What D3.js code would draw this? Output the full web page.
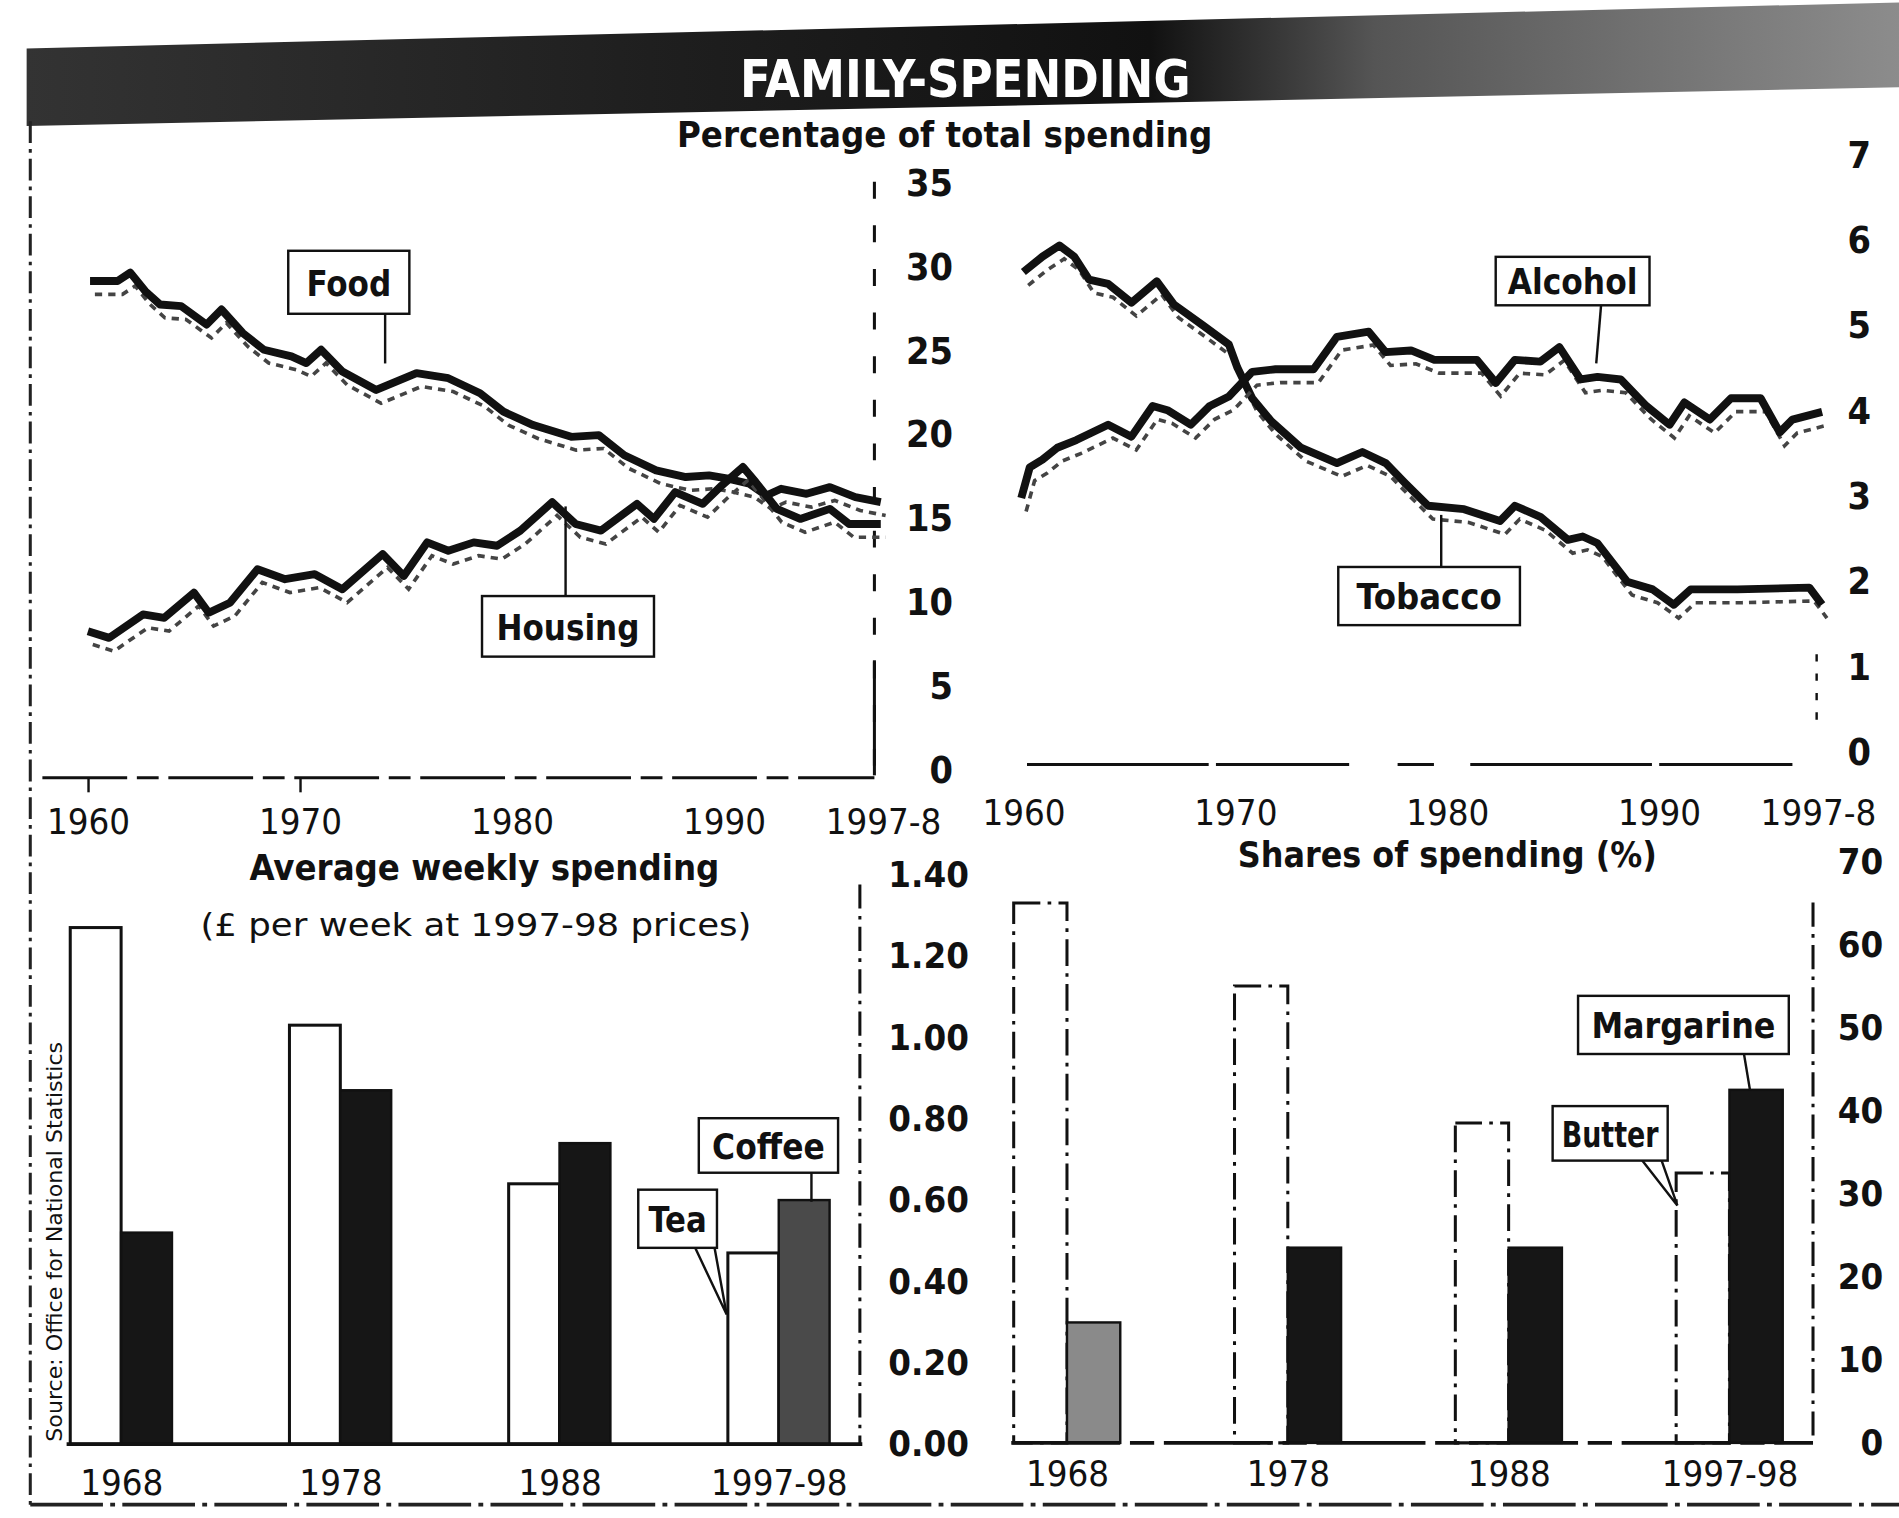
<!DOCTYPE html>
<html>
<head>
<meta charset="utf-8">
<script src="https://cdn.jsdelivr.net/npm/d3@7"></script>
<style>
html, body { margin: 0; padding: 0; background: #fff; }
svg { display: block; }
</style>
</head>
<body>
<div class="canvas"></div>
<script>
// ---- data ----
const foodYear = [1960.1, 1961.4, 1962.0, 1962.7, 1963.4, 1964.4, 1965.6, 1966.3, 1967.3, 1968.3, 1969.6, 1970.3, 1971.0, 1972.0, 1973.6, 1975.5, 1977.0, 1978.5, 1979.6, 1981.0, 1982.8, 1984.1, 1985.3, 1986.8, 1988.2, 1989.3, 1990.2, 1991.2, 1992.0, 1992.7, 1993.9, 1995.0, 1996.2, 1997.4];
const foodShare = [29.0, 29.0, 29.5, 28.4, 27.6, 27.5, 26.4, 27.3, 25.9, 24.9, 24.5, 24.1, 24.9, 23.6, 22.5, 23.5, 23.2, 22.3, 21.2, 20.4, 19.7, 19.8, 18.6, 17.7, 17.3, 17.4, 17.2, 16.9, 16.2, 16.6, 16.3, 16.7, 16.1, 15.8];

const housingYear = [1960.0, 1961.0, 1962.6, 1963.6, 1965.0, 1965.7, 1966.7, 1968.0, 1969.3, 1970.7, 1972.0, 1973.9, 1974.9, 1976.0, 1977.0, 1978.2, 1979.3, 1980.4, 1981.9, 1983.0, 1984.2, 1985.9, 1986.7, 1987.7, 1989.0, 1989.9, 1990.9, 1991.5, 1992.5, 1993.6, 1995.0, 1995.9, 1997.4];
const housingShare = [8.1, 7.7, 9.1, 8.9, 10.4, 9.2, 9.8, 11.8, 11.2, 11.5, 10.6, 12.7, 11.4, 13.4, 12.9, 13.4, 13.2, 14.1, 15.8, 14.5, 14.1, 15.7, 14.8, 16.4, 15.7, 16.8, 17.9, 17.0, 15.4, 14.8, 15.4, 14.5, 14.5];

const tobaccoYear = [1960.0, 1960.9, 1961.7, 1962.4, 1963.1, 1964.0, 1965.1, 1966.3, 1967.1, 1968.5, 1969.7, 1970.1, 1970.8, 1971.7, 1973.1, 1974.8, 1976.0, 1977.1, 1978.0, 1979.1, 1980.8, 1982.5, 1983.2, 1984.4, 1985.7, 1986.4, 1987.1, 1988.5, 1989.7, 1990.7, 1991.5, 1993.7, 1997.1, 1997.7];
const tobaccoShare = [5.63, 5.81, 5.94, 5.81, 5.54, 5.49, 5.27, 5.52, 5.25, 5.0, 4.78, 4.51, 4.15, 3.88, 3.57, 3.39, 3.52, 3.39, 3.16, 2.89, 2.85, 2.71, 2.89, 2.76, 2.49, 2.53, 2.45, 2.0, 1.91, 1.73, 1.91, 1.91, 1.93, 1.73];

const alcoholYear = [1959.9, 1960.3, 1960.9, 1961.6, 1962.5, 1964.0, 1965.1, 1966.1, 1966.8, 1967.9, 1968.8, 1969.7, 1970.8, 1971.9, 1973.7, 1974.8, 1976.3, 1977.1, 1978.3, 1979.4, 1981.4, 1982.3, 1983.2, 1984.4, 1985.3, 1986.3, 1987.1, 1988.2, 1989.4, 1990.5, 1991.2, 1992.4, 1993.4, 1994.8, 1995.7, 1996.3, 1997.7];
const alcoholShare = [2.98, 3.34, 3.43, 3.57, 3.66, 3.84, 3.70, 4.06, 4.01, 3.84, 4.06, 4.17, 4.46, 4.49, 4.49, 4.87, 4.93, 4.69, 4.71, 4.60, 4.60, 4.33, 4.60, 4.58, 4.75, 4.37, 4.40, 4.37, 4.06, 3.84, 4.10, 3.90, 4.15, 4.15, 3.75, 3.90, 3.99];

const yearTicks = [1960, 1970, 1980, 1990, 1997.5];
const yearTickLabels = ['1960', '1970', '1980', '1990', '1997-8'];
const pctTicks = [0, 5, 10, 15, 20, 25, 30, 35];
const smallPctTicks = [0, 1, 2, 3, 4, 5, 6, 7];

const surveyYears = ['1968', '1978', '1988', '1997-98'];
const tea = [1.27, 1.03, 0.64, 0.47];
const coffee = [0.52, 0.87, 0.74, 0.60];
const poundTicks = [0, 0.2, 0.4, 0.6, 0.8, 1.0, 1.2, 1.4];

const butter = [65, 55, 38.5, 32.5];
const margarine = [14.5, 23.5, 23.5, 42.5];
const shareTicks = [0, 10, 20, 30, 40, 50, 60, 70];

// ---- canvas (drawn in a 1568x1253 frame, stretched to the window) ----
const W = 1899, H = 1518;
const VW = 1568, VH = 1253;
const numFont = '"DejaVu Sans Condensed", "DejaVu Sans", sans-serif';
const headFont = '"DejaVu Sans Condensed", "DejaVu Sans", sans-serif';

const svg = d3.select('.canvas')
	.append('svg')
	.attr('width', W)
	.attr('height', H)
	.attr('viewBox', `0 0 ${VW} ${VH}`)
	.attr('preserveAspectRatio', 'none');

const defs = svg.append('defs');
const grad = defs.append('linearGradient').attr('id', 'band').attr('x1', '0%').attr('x2', '100%');
grad.append('stop').attr('offset', '0%').attr('stop-color', '#333');
grad.append('stop').attr('offset', '35%').attr('stop-color', '#1e1e1e');
grad.append('stop').attr('offset', '60%').attr('stop-color', '#111');
grad.append('stop').attr('offset', '72%').attr('stop-color', '#555');
grad.append('stop').attr('offset', '100%').attr('stop-color', '#8c8c8c');

//title band
svg.append('path')
	.attr('d', 'M22,40 L1568,2 L1568,72 L22,104 Z')
	.attr('fill', 'url(#band)');
svg.append('text')
	.attr('x', 797).attr('y', 80)
	.attr('text-anchor', 'middle')
	.attr('font-family', headFont)
	.attr('font-weight', 'bold')
	.attr('font-size', 42)
	.attr('textLength', 372)
	.attr('lengthAdjust', 'spacingAndGlyphs')
	.attr('fill', '#fff')
	.text('FAMILY-SPENDING');

//frame
svg.append('line').attr('x1', 25).attr('y1', 100).attr('x2', 25).attr('y2', 1242)
	.attr('stroke', '#222').attr('stroke-width', 2.5).attr('stroke-dasharray', '18 5 3 5');
svg.append('line').attr('x1', 25).attr('y1', 1242).attr('x2', 1568).attr('y2', 1242)
	.attr('stroke', '#222').attr('stroke-width', 3).attr('stroke-dasharray', '60 6 4 6');

function heading(x, y, txt, size, len, weight) {
	svg.append('text')
		.attr('x', x).attr('y', y)
		.attr('text-anchor', 'middle')
		.attr('font-family', headFont)
		.attr('font-weight', weight || 'bold')
		.attr('font-size', size)
		.attr('textLength', len)
		.attr('lengthAdjust', 'spacingAndGlyphs')
		.attr('fill', '#111')
		.text(txt);
}

function styleAxis(g, size, weight, anchor, dx) {
	g.select('.domain').remove();
	g.selectAll('.tick line').attr('stroke', '#111').attr('stroke-width', 2);
	g.selectAll('.tick text')
		.attr('font-family', numFont)
		.attr('font-size', size)
		.attr('font-weight', weight)
		.attr('fill', '#111');
	if (anchor) g.selectAll('.tick text').attr('text-anchor', anchor).attr('x', dx);
}

function callout(x, y, w, h, txt, len, pointer) {
	const g = svg.append('g');
	if (pointer) {
		g.append('path').attr('d', pointer)
			.attr('fill', 'none').attr('stroke', '#111').attr('stroke-width', 2);
	}
	g.append('rect').attr('x', x).attr('y', y).attr('width', w).attr('height', h)
		.attr('fill', '#fff').attr('stroke', '#111').attr('stroke-width', 2);
	g.append('text')
		.attr('x', x + w / 2).attr('y', y + h / 2 + 11)
		.attr('text-anchor', 'middle')
		.attr('font-family', headFont)
		.attr('font-weight', 'bold')
		.attr('font-size', 30)
		.attr('textLength', len)
		.attr('lengthAdjust', 'spacingAndGlyphs')
		.attr('fill', '#111')
		.text(txt);
}

function drawSeries(line, xs, ys) {
	const pts = d3.zip(xs, ys);
	svg.append('path').datum(pts)
		.attr('d', line)
		.attr('transform', 'translate(4,11)')
		.attr('fill', 'none')
		.attr('stroke', '#444')
		.attr('stroke-width', 3)
		.attr('stroke-dasharray', '6 5');
	svg.append('path').datum(pts)
		.attr('d', line)
		.attr('fill', 'none')
		.attr('stroke', '#111')
		.attr('stroke-width', 6.5)
		.attr('stroke-linejoin', 'round');
}

// ---- top left: food and housing ----
heading(780, 121, 'Percentage of total spending', 29, 442);

const xL = d3.scaleLinear().domain([1960, 1997.5]).range([72.6, 729]);
const yL = d3.scaleLinear().domain([0, 35]).range([633, 149]);
const lineL = d3.line().x(d => xL(d[0])).y(d => yL(d[1]));

svg.append('line').attr('x1', 722).attr('y1', 150).attr('x2', 722).attr('y2', 640)
	.attr('stroke', '#111').attr('stroke-width', 2.5).attr('stroke-dasharray', '14 22');
svg.append('line').attr('x1', 722).attr('y1', 545).attr('x2', 722).attr('y2', 640)
	.attr('stroke', '#111').attr('stroke-width', 2.5);
svg.append('line').attr('x1', 35).attr('y1', 642).attr('x2', 722).attr('y2', 642)
	.attr('stroke', '#111').attr('stroke-width', 2.5).attr('stroke-dasharray', '70 8 18 8');

svg.append('g')
	.attr('transform', 'translate(722,0)')
	.call(d3.axisRight(yL).tickValues(pctTicks).tickSize(0).tickFormat(d3.format('d')))
	.call(g => styleAxis(g, 31, 'bold', 'end', 65))
	.call(g => g.selectAll('.tick text').attr('dy', '0.4em'));

svg.append('g')
	.attr('transform', 'translate(0,642)')
	.call(d3.axisBottom(xL).tickValues(yearTicks).tickSize(12).tickFormat((d, i) => yearTickLabels[i]))
	.call(g => styleAxis(g, 30, 'normal'))
	.call(g => g.selectAll('.tick text').attr('y', 46).attr('dy', 0))
	.call(g => g.selectAll('.tick line').filter((d, i) => i > 1).remove());

drawSeries(lineL, foodYear, foodShare);
drawSeries(lineL, housingYear, housingShare);

callout(238, 207, 100, 52, 'Food', 70, 'M318,259 L318,300');
callout(398, 492, 142, 50, 'Housing', 118, 'M467,492 L467,418');

// ---- top right: alcohol and tobacco ----
const xR = d3.scaleLinear().domain([1960, 1997.5]).range([845, 1501]);
const yR = d3.scaleLinear().domain([0, 7]).range([621, 128]);
const lineR = d3.line().x(d => xR(d[0])).y(d => yR(d[1]));

svg.append('line').attr('x1', 848).attr('y1', 631).attr('x2', 1500).attr('y2', 631)
	.attr('stroke', '#111').attr('stroke-width', 2.5).attr('stroke-dasharray', '150 6 110 40 30 30');
svg.append('line').attr('x1', 1500).attr('y1', 540).attr('x2', 1500).attr('y2', 600)
	.attr('stroke', '#111').attr('stroke-width', 2).attr('stroke-dasharray', '6 10');

svg.append('g')
	.attr('transform', 'translate(1500,0)')
	.call(d3.axisRight(yR).tickValues(smallPctTicks).tickSize(0).tickFormat(d3.format('d')))
	.call(g => styleAxis(g, 31, 'bold', 'end', 45));

svg.append('g')
	.attr('transform', 'translate(0,631)')
	.call(d3.axisBottom(xR).tickValues(yearTicks).tickSize(0).tickFormat((d, i) => yearTickLabels[i]))
	.call(g => styleAxis(g, 30, 'normal'))
	.call(g => g.selectAll('.tick text').attr('y', 50).attr('dy', 0));

drawSeries(lineR, tobaccoYear, tobaccoShare);
drawSeries(lineR, alcoholYear, alcoholShare);

callout(1235, 212, 127, 40, 'Alcohol', 107, 'M1322,252 L1318,300');
callout(1105, 468, 150, 48, 'Tobacco', 120, 'M1190,468 L1190,425');

// ---- bottom left: tea and coffee ----
heading(400, 726, 'Average weekly spending', 30, 388);
heading(393, 773, '(£ per week at 1997-98 prices)', 26, 455, 'normal');

const xB = d3.scalePoint().domain(surveyYears).range([100, 643]);
const subB = d3.scaleBand().domain(['tea', 'coffee']).range([-42, 42]);
const yB = d3.scaleLinear().domain([0, 1.4]).range([1192, 722]);

svg.append('line').attr('x1', 710).attr('y1', 730).attr('x2', 710).attr('y2', 1192)
	.attr('stroke', '#111').attr('stroke-width', 2.5).attr('stroke-dasharray', '20 6 3 6');

svg.append('g')
	.attr('transform', 'translate(710,0)')
	.call(d3.axisRight(yB).tickValues(poundTicks).tickSize(0).tickFormat(d3.format('.2f')))
	.call(g => styleAxis(g, 30, 'bold', 'end', 90));

const teaBars = svg.append('g');
teaBars.selectAll('rect')
	.data(tea)
	.enter()
	.append('rect')
	.attr('x', (d, i) => xB(surveyYears[i]) + subB('tea'))
	.attr('y', d => yB(d))
	.attr('width', subB.bandwidth())
	.attr('height', d => yB(0) - yB(d))
	.attr('fill', '#fff')
	.attr('stroke', '#111')
	.attr('stroke-width', 2.5);

const coffeeBars = svg.append('g');
coffeeBars.selectAll('rect')
	.data(coffee)
	.enter()
	.append('rect')
	.attr('x', (d, i) => xB(surveyYears[i]) + subB('coffee'))
	.attr('y', d => yB(d))
	.attr('width', subB.bandwidth())
	.attr('height', d => yB(0) - yB(d))
	.attr('fill', (d, i) => i == 3 ? '#4a4a4a' : '#161616')
	.attr('stroke', '#111')
	.attr('stroke-width', 2);

svg.append('line').attr('x1', 55).attr('y1', 1192).attr('x2', 712).attr('y2', 1192)
	.attr('stroke', '#111').attr('stroke-width', 3);

svg.append('g')
	.attr('transform', 'translate(0,1192)')
	.call(d3.axisBottom(xB).tickSize(0))
	.call(g => styleAxis(g, 30, 'normal'))
	.call(g => g.selectAll('.tick text').attr('y', 42).attr('dy', 0));

callout(577, 923, 115, 45, 'Coffee', 93, 'M670,968 L670,992');
callout(527, 982, 65, 48, 'Tea', 48, 'M574,1030 L600,1085 L590,1030');

svg.append('text')
	.attr('transform', 'translate(51,1190) rotate(-90)')
	.attr('font-family', headFont)
	.attr('font-size', 17)
	.attr('textLength', 330)
	.attr('lengthAdjust', 'spacingAndGlyphs')
	.attr('fill', '#111')
	.text('Source: Office for National Statistics');

// ---- bottom right: butter and margarine ----
heading(1195, 716, 'Shares of spending (%)', 29, 346);

const xF = d3.scalePoint().domain(surveyYears).range([881, 1428]);
const subF = d3.scaleBand().domain(['butter', 'margarine']).range([-44, 44]);
const yF = d3.scaleLinear().domain([0, 70]).range([1191, 711]);

svg.append('line').attr('x1', 1497).attr('y1', 745).attr('x2', 1497).attr('y2', 1191)
	.attr('stroke', '#111').attr('stroke-width', 2.5).attr('stroke-dasharray', '20 6 3 6');

svg.append('g')
	.attr('transform', 'translate(1497,0)')
	.call(d3.axisRight(yF).tickValues(shareTicks).tickSize(0).tickFormat(d3.format('d')))
	.call(g => styleAxis(g, 30, 'bold', 'end', 58));

const butterBars = svg.append('g');
butterBars.selectAll('rect')
	.data(butter)
	.enter()
	.append('rect')
	.attr('x', (d, i) => xF(surveyYears[i]) + subF('butter'))
	.attr('y', d => yF(d))
	.attr('width', subF.bandwidth())
	.attr('height', d => yF(0) - yF(d))
	.attr('fill', '#fff')
	.attr('stroke', '#111')
	.attr('stroke-width', 2.5)
	.attr('stroke-dasharray', '22 6 3 6');

const margBars = svg.append('g');
margBars.selectAll('rect')
	.data(margarine)
	.enter()
	.append('rect')
	.attr('x', (d, i) => xF(surveyYears[i]) + subF('margarine'))
	.attr('y', d => yF(d))
	.attr('width', subF.bandwidth())
	.attr('height', d => yF(0) - yF(d))
	.attr('fill', (d, i) => i == 0 ? '#8a8a8a' : '#161616')
	.attr('stroke', '#111')
	.attr('stroke-width', 2);

svg.append('line').attr('x1', 835).attr('y1', 1191).attr('x2', 1497).attr('y2', 1191)
	.attr('stroke', '#111').attr('stroke-width', 3).attr('stroke-dasharray', '90 8 20 8');

svg.append('g')
	.attr('transform', 'translate(0,1191)')
	.call(d3.axisBottom(xF).tickSize(0))
	.call(g => styleAxis(g, 30, 'normal'))
	.call(g => g.selectAll('.tick text').attr('y', 36).attr('dy', 0));

callout(1303, 822, 174, 48, 'Margarine', 152, 'M1440,870 L1445,900');
callout(1282, 913, 95, 45, 'Butter', 80, 'M1356,958 L1385,995 L1372,958');
</script>
</body>
</html>
